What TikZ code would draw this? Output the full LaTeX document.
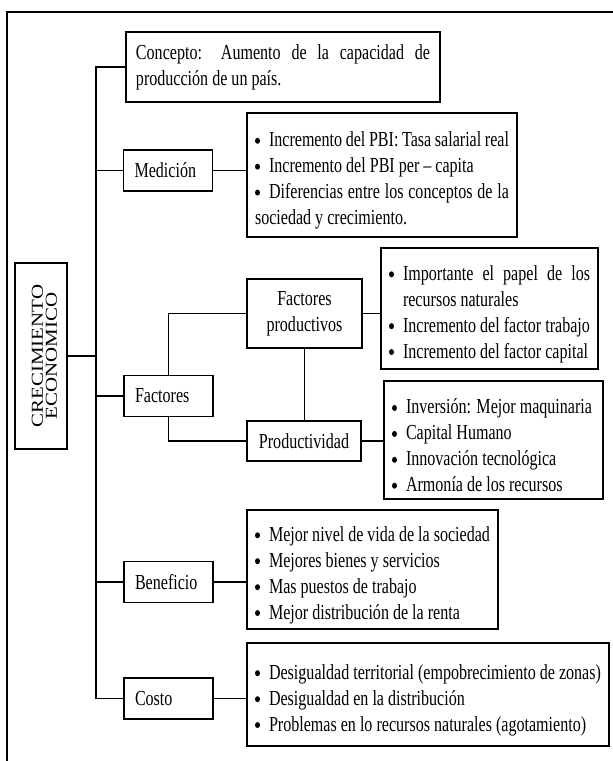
\documentclass[tikz,border=0pt]{standalone}
\usepackage{fontspec}
\setmainfont{Liberation Serif}[FakeStretch=0.75]
\newfontfamily\crecfont{Liberation Serif}
\newcommand{\punto}{\tikz[baseline=0pt]\fill (0pt,0pt) (2.5bp,6bp) ellipse (2.5bp and 3bp);}
\newcommand{\bul}[1]{\par\hangindent=14bp\hangafter=1\noindent\makebox[14bp][l]{\punto}#1}
\tikzset{
  caja/.style={draw,line width=1.5bp},
  rama/.style={caja,text width=67bp,inner xsep=11bp,minimum height=41bp,align=left},
  lista/.style={caja,inner xsep=8bp,inner ysep=0pt,align=justify}
}
\begin{document}
\begin{tikzpicture}[x=1bp,y=-1bp,line width=1.4bp]
    \tikzstyle{every node}=[font=\fontsize{21.5}{26}\selectfont]
    \useasboundingbox (0,0) rectangle (613,761);

    \draw (7,775) -- (7,12) -- (625,12);

    \node[caja,minimum width=52bp,minimum height=186bp] (crec) at (41,356) {};
    \node[rotate=90,yscale=0.8,align=center,
      font=\crecfont\fontsize{21}{17.5}\selectfont] (crectxt) at (44.5,356)
      {CRECIMIENTO\\ECONOMICO};

    \node[caja,text width=294bp,inner xsep=10bp,minimum height=70bp,align=justify]
    (concepto) at (283,67)
    {Concepto: Aumento de la capacidad de\linebreak producción de un país.};

    \node[rama] (medicion) at (168,170.5) {Medición};
    \node[rama] (factores) at (168.5,396) {Factores};
    \node[rama] (benef) at (168.5,582) {Beneficio};
    \node[rama] (costo) at (168.5,698.5) {Costo};

    \node[caja,minimum width=115bp,minimum height=69bp,align=center]
    (fprod) at (304.5,313.5) {Factores\\productivos};
    \node[caja,minimum width=114bp,minimum height=40bp]
    (prod) at (304,441) {Productividad};

    \node[lista,text width=254bp,minimum height=124bp] (medlist) at (382,175) {%
      \bul{Incremento del PBI: Tasa salarial real}
      \bul{Incremento del PBI per -- capita}
      \bul{Diferencias entre los conceptos de la sociedad y crecimiento.}};

    \node[lista,text width=201bp,minimum height=121bp] (fplist) at (489.5,308.5) {%
      \bul{Importante el papel de los\linebreak recursos naturales}
      \bul{Incremento del factor trabajo}
      \bul{Incremento del factor capital}};

    \node[lista,text width=203bp,minimum height=118bp] (prodlist) at (493.5,440) {%
      \bul{Inversión: Mejor maquinaria}
      \bul{Capital Humano}
      \bul{Innovación tecnológica}
      \bul{Armonía de los recursos}};

    \node[lista,text width=235bp,minimum height=119bp] (beneflist) at (372.5,569.5) {%
      \bul{Mejor nivel de vida de la sociedad}
      \bul{Mejores bienes y servicios}
      \bul{Mas puestos de trabajo}
      \bul{Mejor distribución de la renta}};

    \node[lista,text width=346bp,minimum height=103bp] (costolist) at (428,694.5) {%
      \bul{Desigualdad territorial (empobrecimiento de zonas)}
      \bul{Desigualdad en la distribución}
      \bul{Problemas en lo recursos naturales (agotamiento)}};

    % tronco
    \coordinate (tronco) at (96,0);
    \draw (concepto.west) -| (tronco |- costo.west) -- (costo.west);
    \draw (medicion.west) -- (tronco |- medicion.west);
    \draw (factores.west) -- (tronco |- factores.west);
    \draw (benef.west) -- (tronco |- benef.west);
    \draw (crec.east) -- (tronco |- crec.east);

    \draw (medicion.east) -- (medicion.east -| medlist.west);
    \draw (factores.north) |- (fprod.west);
    \draw (factores.south) |- (prod.west);
    \draw (fprod.south) -- (fprod.south |- prod.north);
    \draw (fprod.east) -- (fprod.east -| fplist.west);
    \draw (prod.east) -- (prod.east -| prodlist.west);
    \draw (benef.east) -- (benef.east -| beneflist.west);
    \draw (costo.east) -- (costo.east -| costolist.west);
\end{tikzpicture}
\end{document}
